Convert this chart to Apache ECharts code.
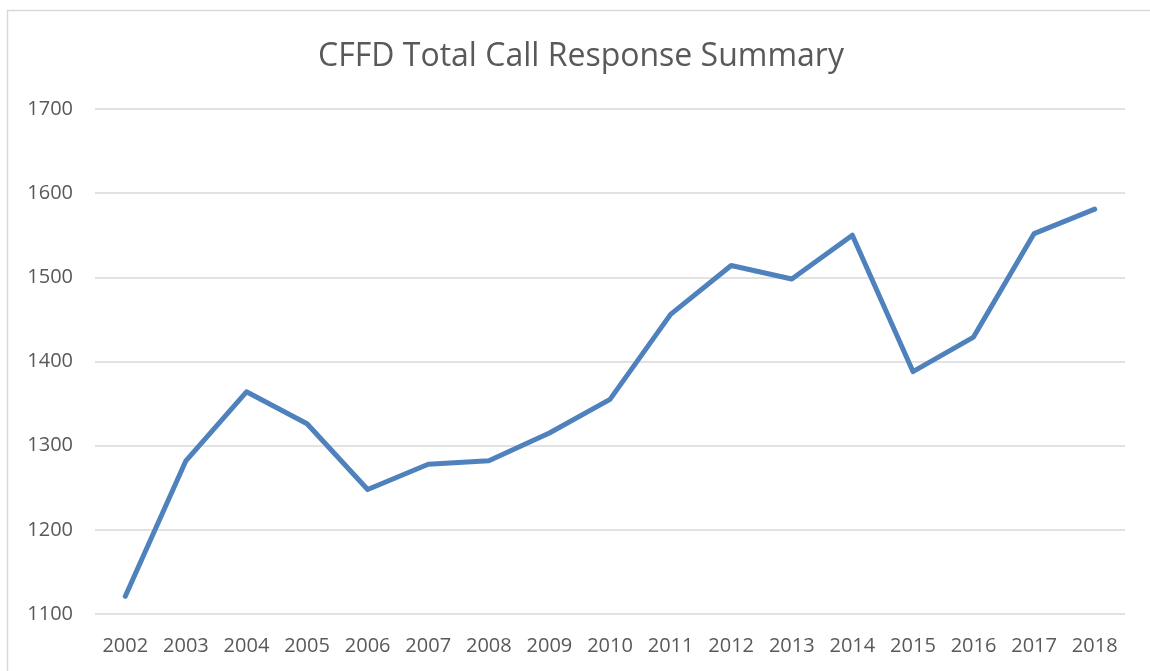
<!DOCTYPE html>
<html>
<head>
<meta charset="utf-8">
<title>CFFD Total Call Response Summary</title>
<script src="https://cdn.jsdelivr.net/npm/echarts@6/dist/echarts.min.js"></script>
<style>
  html, body { margin: 0; padding: 0; background: #fff; }
  #chart { width: 1150px; height: 671px; }
</style>
</head>
<body>
<div id="chart"></div>
<script>
// data
var years = ['2002', '2003', '2004', '2005', '2006', '2007', '2008', '2009', '2010',
             '2011', '2012', '2013', '2014', '2015', '2016', '2017', '2018'];
var calls = [1121, 1282, 1364, 1326, 1248, 1278, 1282, 1315, 1355,
             1456, 1514, 1498, 1550, 1388, 1429, 1552, 1581];

var textColor = '#595959';
var font = '"Open Sans", "Liberation Sans", sans-serif';

var myChart = echarts.init(document.getElementById('chart'));
myChart.setOption({
    animation: false,
    backgroundColor: '#fff',
    graphic: [{
        type: 'rect',
        shape: { x: 7.5, y: 10.5, width: 1200, height: 700 },
        style: { fill: 'none', stroke: '#d9d9d9', lineWidth: 1.5 },
        silent: true
    }],
    title: {
        text: 'CFFD Total Call Response Summary',
        left: 576,
        textAlign: 'center',
        top: 36,
        textStyle: {
            color: textColor,
            fontFamily: font,
            fontSize: 32,
            fontWeight: 'normal'
        }
    },
    grid: {
        left: 95,
        right: 25,
        top: 109,
        bottom: 57
    },
    xAxis: {
        type: 'category',
        data: years,
        boundaryGap: true,
        axisLine: { show: false },
        axisTick: { show: false },
        axisLabel: {
            color: textColor,
            fontFamily: font,
            fontSize: 20,
            margin: 22
        }
    },
    yAxis: {
        type: 'value',
        min: 1100,
        max: 1700,
        interval: 100,
        axisLine: { show: false },
        axisTick: { show: false },
        axisLabel: {
            color: textColor,
            fontFamily: font,
            fontSize: 20,
            margin: 22,
            formatter: function (v) { return String(v); }
        },
        splitLine: { lineStyle: { color: '#d9d9d9', width: 1.5 } }
    },
    series: [{
        name: 'Calls',
        type: 'line',
        data: calls,
        symbol: 'none',
        lineStyle: { color: '#4f81bd', width: 5, cap: 'round', join: 'round' }
    }]
});
</script>
</body>
</html>
